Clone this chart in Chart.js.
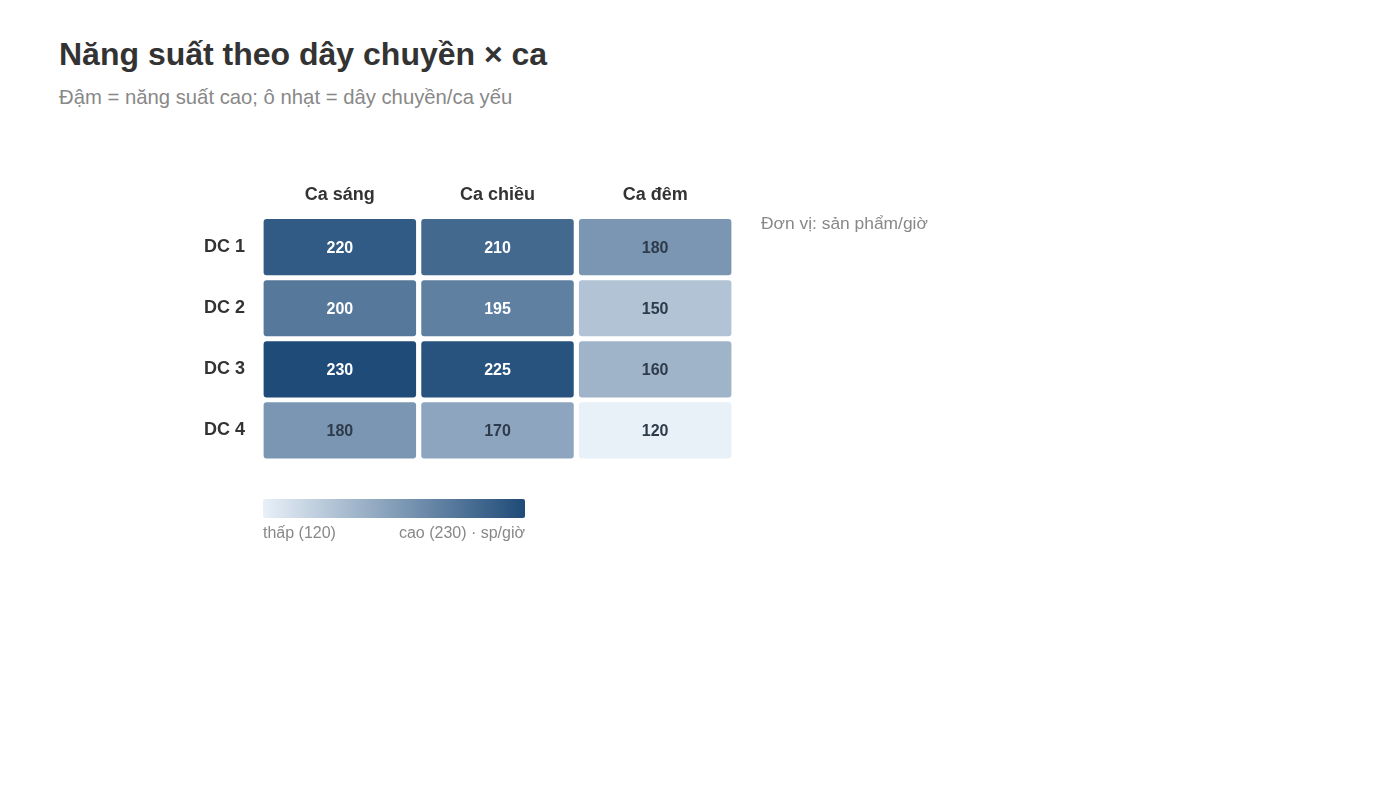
<!DOCTYPE html>
<html>
<head>
<meta charset="utf-8">
<script src="https://cdn.jsdelivr.net/npm/chart.js@4.4.1/dist/chart.umd.min.js"></script>
<style>
  body { margin: 0; background: #fff; font-family: "Liberation Sans", Arial, sans-serif; }
  #wrap { position: relative; width: 1400px; height: 787px; }
  #title { position: absolute; left: 59px; top: 36px; font-size: 32px; font-weight: bold; color: #333; }
  #subtitle { position: absolute; left: 59px; top: 86px; font-size: 20.3px; color: #888; }
  canvas { position: absolute; left: 0; top: 0; }
</style>
</head>
<body>
<div id="wrap">
  <div id="title">Năng suất theo dây chuyền × ca</div>
  <div id="subtitle">Đậm = năng suất cao; ô nhạt = dây chuyền/ca yếu</div>
  <canvas id="chart" width="1400" height="787"></canvas>
</div>
<script>
const shifts = ['Ca sáng', 'Ca chiều', 'Ca đêm'];
const lines = ['DC 1', 'DC 2', 'DC 3', 'DC 4'];
const dc1 = [220, 210, 180];
const dc2 = [200, 195, 150];
const dc3 = [230, 225, 160];
const dc4 = [180, 170, 120];
const rows = [dc1, dc2, dc3, dc4];
const minVal = 120;
const maxVal = 230;
const unitNote = 'Đơn vị: sản phẩm/giờ';

const lowColor = [232, 240, 248];
const highColor = [31, 75, 120];

function shade(v) {
    const t = (v - minVal) / (maxVal - minVal);
    const c = lowColor.map((l, i) => Math.round(l + (highColor[i] - l) * t));
    return 'rgb(' + c.join(',') + ')';
}

const datasets = rows.map((vals, r) => ({
    label: lines[r],
    data: vals.map(() => [r + 0.04, r + 0.96]),
    values: vals,
    backgroundColor: vals.map(shade),
    borderRadius: 3,
    borderSkipped: false,
    grouped: false,
    categoryPercentage: 1,
    barPercentage: 0.967
}));

const cellText = {
    id: 'cellText',
    afterDatasetsDraw(chart) {
        const ctx = chart.ctx;
        ctx.save();
        ctx.font = 'bold 16px "Liberation Sans", Arial, sans-serif';
        ctx.textAlign = 'center';
        ctx.textBaseline = 'middle';
        chart.data.datasets.forEach((ds, di) => {
            chart.getDatasetMeta(di).data.forEach((bar, i) => {
                const v = ds.values[i];
                const t = (v - minVal) / (maxVal - minVal);
                ctx.fillStyle = t > 0.6 ? '#ffffff' : '#2e3b4b';
                const p = bar.getProps(['x', 'y', 'base'], true);
                ctx.fillText(String(v), p.x, (p.y + p.base) / 2 + 1);
            });
        });
        ctx.restore();
    }
};

const extras = {
    id: 'extras',
    afterDraw(chart) {
        const ctx = chart.ctx;
        const a = chart.chartArea;
        ctx.save();
        // unit note
        ctx.font = '17.4px "Liberation Sans", Arial, sans-serif';
        ctx.fillStyle = '#888';
        ctx.textAlign = 'left';
        ctx.textBaseline = 'middle';
        ctx.fillText(unitNote, a.right + 27, a.top + 8);
        // colour bar
        const x0 = a.left + 2, w = 262, y0 = a.bottom + 38, h = 19;
        const g = ctx.createLinearGradient(x0, 0, x0 + w, 0);
        g.addColorStop(0, shade(minVal));
        g.addColorStop(1, shade(maxVal));
        ctx.fillStyle = g;
        ctx.beginPath();
        ctx.roundRect(x0, y0, w, h, 2);
        ctx.fill();
        ctx.font = '16px "Liberation Sans", Arial, sans-serif';
        ctx.fillStyle = '#888';
        ctx.textBaseline = 'middle';
        ctx.textAlign = 'left';
        ctx.fillText('thấp (' + minVal + ')', x0, y0 + h + 16);
        ctx.textAlign = 'right';
        ctx.fillText('cao (' + maxVal + ') · sp/giờ', x0 + w, y0 + h + 16);
        ctx.restore();
    }
};

new Chart(document.getElementById('chart'), {
    type: 'bar',
    data: { labels: shifts, datasets: datasets },
    options: {
        responsive: false,
        animation: false,
        layout: { padding: { left: 196, right: 666, top: 181, bottom: 326 } },
        plugins: {
            legend: { display: false },
            tooltip: {
                callbacks: {
                    label: (item) => item.dataset.label + ': ' + item.dataset.values[item.dataIndex] + ' sp/giờ'
                }
            }
        },
        scales: {
            x: {
                position: 'top',
                offset: true,
                grid: { display: false },
                border: { display: false },
                ticks: {
                    color: '#333',
                    padding: 3,
                    font: { family: '"Liberation Sans", Arial, sans-serif', size: 18, weight: 'bold' }
                }
            },
            y: {
                type: 'linear',
                display: false,
                min: 0,
                max: lines.length,
                reverse: true
            },
            rowLabels: {
                type: 'category',
                position: 'left',
                labels: lines,
                offset: true,
                grid: { display: false },
                border: { display: false },
                ticks: {
                    color: '#333',
                    padding: 8,
                    font: { family: '"Liberation Sans", Arial, sans-serif', size: 18, weight: 'bold' }
                }
            }
        }
    },
    plugins: [cellText, extras]
});
</script>
</body>
</html>
